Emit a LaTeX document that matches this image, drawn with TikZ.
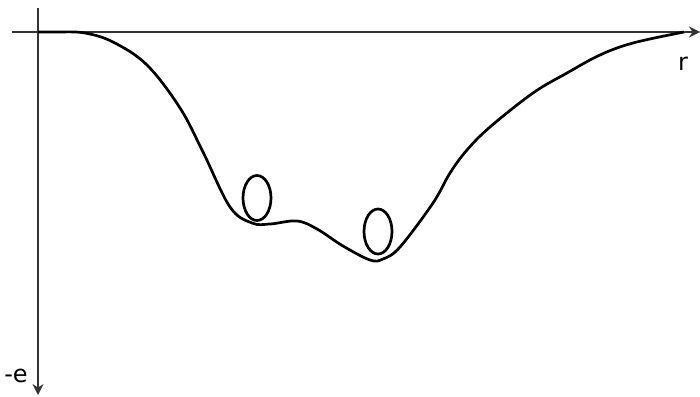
\documentclass[tikz,border=0pt]{standalone}
\usepackage{fontspec}
\setmainfont{DejaVu Sans}
\usetikzlibrary{arrows.meta}

\begin{document}
\begin{tikzpicture}[x=1pt,y=-1pt,
 ax/.style={line width=2pt,draw=black!80,-{Stealth[length=11pt,width=11pt]}},
 pot/.style={line width=2.7pt,line join=round},
 lbl/.style={font=\fontsize{24}{28}\selectfont,inner sep=0pt}]
\useasboundingbox (0,0) rectangle (700,396);
% axes
\coordinate (x0) at (12,32); \coordinate (x1) at (700,32);
\coordinate (y0) at (38,8); \coordinate (y1) at (38,395);
\draw[ax] (x0) -- (x1);
\draw[ax] (y0) -- (y1);
\node[lbl] (rlab) at (683,64) {r};
\node[lbl] (elab) at (16,376) {-e};
% potential curve
\draw[pot] (38,32) -- plot[smooth,tension=0.6] coordinates {(62,32) (85,33) (113,42) (147,65)
 (180,108) (203,152) (230,207) (252,223) (270,224) (297,221) (317,229) (343,246) (370,260)
 (383,259) (400,247) (433,203) (450,173) (467,150) (490,127) (533,93) (567,73) (600,55)
 (633,43) (684,32)};
% the two balls
\draw[pot] (257,198) ellipse [x radius=14,y radius=22.5];
\draw[pot] (378,231.5) ellipse [x radius=14,y radius=22.5];
\end{tikzpicture}
\end{document}
